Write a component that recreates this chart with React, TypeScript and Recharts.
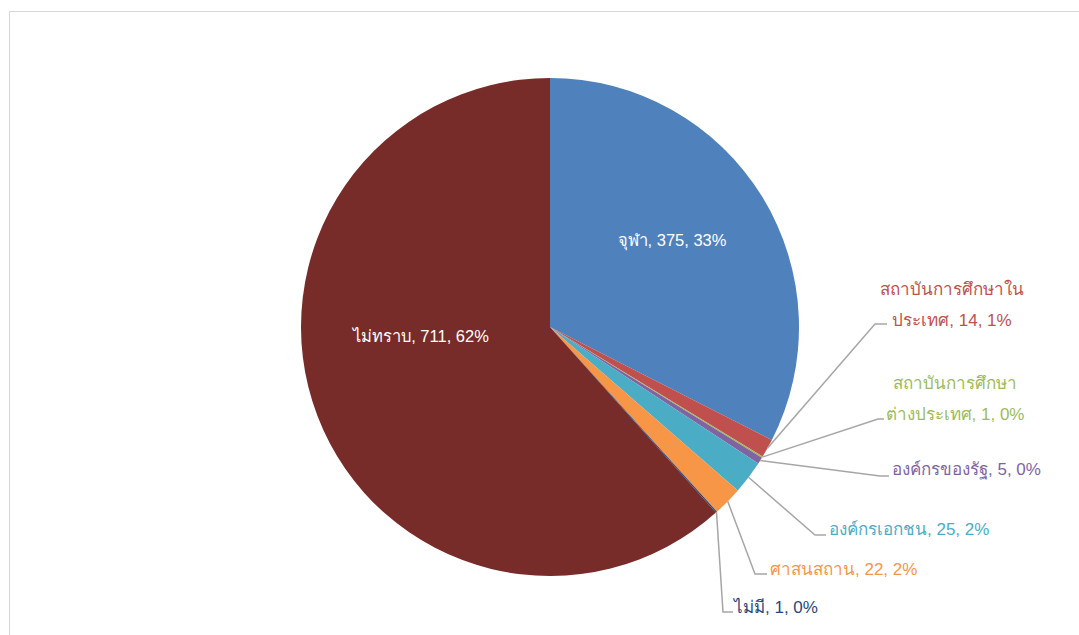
import React from 'react';
import { PieChart, Pie, Cell } from 'recharts';

const categories = [
  'จุฬา',
  'สถาบันการศึกษาในประเทศ',
  'สถาบันการศึกษาต่างประเทศ',
  'องค์กรของรัฐ',
  'องค์กรเอกชน',
  'ศาสนสถาน',
  'ไม่มี',
  'ไม่ทราบ',
];
const values = [375, 14, 1, 5, 25, 22, 1, 711];
const percentLabels = ['33%', '1%', '0%', '0%', '2%', '2%', '0%', '62%'];
const colors = ['#4F81BD', '#C0504D', '#9BBB59', '#8064A2', '#4BACC6', '#F79646', '#1F497D', '#772C2A'];
const labelColors = ['#FFFFFF', '#C0504D', '#9BBB59', '#8064A2', '#4BACC6', '#F79646', '#1F497D', '#FFFFFF'];

// label layout (offsets from pie centre): text position, first-line wrap length, leader elbow/end
type Layout = {
  inside?: boolean;
  tx: number;
  ty: number;
  anchor: 'start' | 'middle';
  wrap?: number;
  elbow?: [number, number];
  end?: [number, number];
};
const layouts: Layout[] = [
  { inside: true, tx: 122, ty: -81, anchor: 'middle' },
  { tx: 402, ty: -1, anchor: 'middle', wrap: 16, elbow: [325, -3], end: [337, -3] },
  { tx: 405, ty: 93, anchor: 'middle', wrap: 14, elbow: [328, 92], end: [334, 92] },
  { tx: 342, ty: 148, anchor: 'start', elbow: [330, 149], end: [339, 149] },
  { tx: 279, ty: 208, anchor: 'start', elbow: [265, 208], end: [276, 208] },
  { tx: 220, ty: 248, anchor: 'start', elbow: [205, 247], end: [217, 247] },
  { tx: 184, ty: 286, anchor: 'start', elbow: [173, 285], end: [183, 285] },
  { inside: true, tx: -129, ty: 15, anchor: 'middle' },
];

const data = categories.map((name, i) => ({ name, value: values[i] }));

const FONT = '"Liberation Sans", Arial, "Noto Sans", sans-serif';
const FS = 17;

const renderLabel = (props: any) => {
  const { cx, cy, midAngle, outerRadius, index } = props;
  const lay = layouts[index];
  const name = categories[index];
  const value = values[index];
  const pct = percentLabels[index];
  const full = `${name}, ${value}, ${pct}`;
  const color = labelColors[index];
  const x = cx + lay.tx;
  const y = cy + lay.ty;
  if (lay.inside) {
    return (
      <text x={x} y={y} fill={color} fontSize={16.5} fontFamily={FONT} textAnchor="middle">
        {full}
      </text>
    );
  }
  const rad = (Math.PI / 180) * midAngle;
  const sx = cx + outerRadius * Math.cos(-rad);
  const sy = cy + outerRadius * Math.sin(-rad);
  const pts = [
    [sx, sy],
    [cx + lay.elbow![0], cy + lay.elbow![1]],
    [cx + lay.end![0], cy + lay.end![1]],
  ]
    .map((p) => p.join(','))
    .join(' ');
  const lines = lay.wrap ? [name.slice(0, lay.wrap), `${name.slice(lay.wrap)}, ${value}, ${pct}`] : [full];
  return (
    <g>
      <polyline points={pts} fill="none" stroke="#A6A6A6" strokeWidth={1.5} />
      {lines.map((ln, k) => (
        <text
          key={k}
          x={x}
          y={y - (lines.length - 1 - k) * 31}
          fill={color}
          fontSize={FS}
          fontFamily={FONT}
          textAnchor={lay.anchor}
        >
          {ln}
        </text>
      ))}
    </g>
  );
};

export default function App() {
  return (
    <div style={{ position: 'fixed', left: 0, top: 0, width: 1079, height: 635, background: '#fff', overflow: 'hidden' }}>
      <div
        style={{
          position: 'absolute',
          left: 9,
          top: 11,
          width: 1200,
          height: 800,
          border: '1px solid #D9D9D9',
        }}
      />
      <div style={{ position: 'absolute', left: 0, top: 0 }}>
        <PieChart width={1079} height={635} margin={{ top: 0, right: 0, bottom: 0, left: 0 }}>
          <Pie
            data={data}
            dataKey="value"
            nameKey="name"
            cx={550}
            cy={327}
            outerRadius={249}
            startAngle={90}
            endAngle={-270}
            stroke="none"
            isAnimationActive={false}
            labelLine={false}
            label={renderLabel}
          >
            {data.map((d, i) => (
              <Cell key={d.name} fill={colors[i]} />
            ))}
          </Pie>
        </PieChart>
      </div>
    </div>
  );
}
